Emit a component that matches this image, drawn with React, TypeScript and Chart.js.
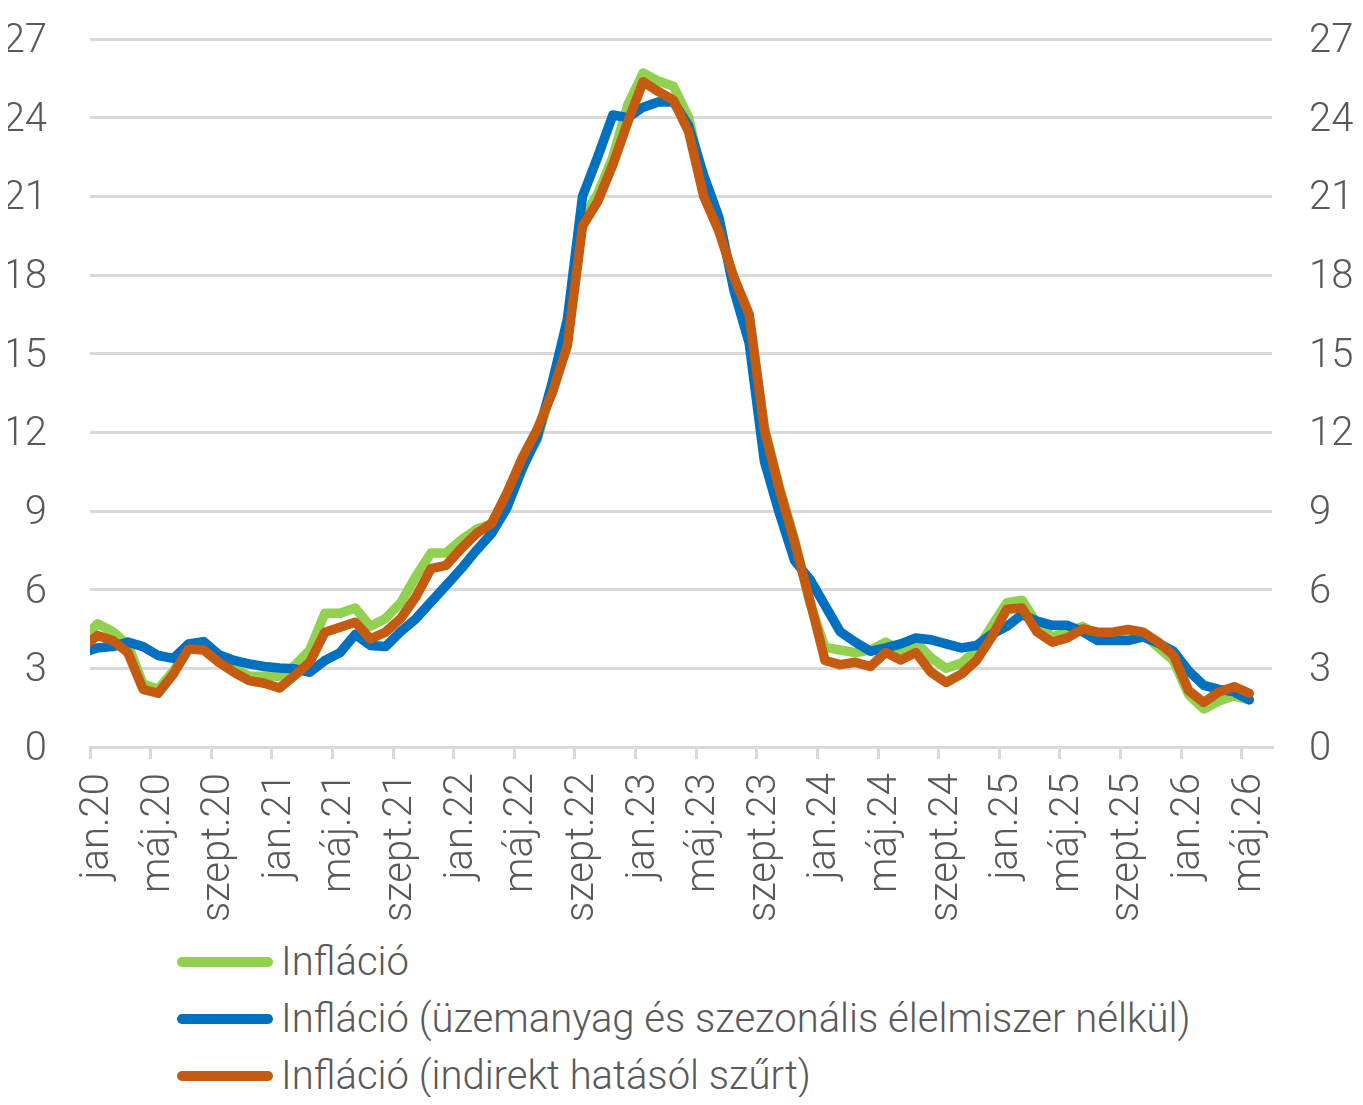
import React, { useEffect, useRef } from "react";
import { Chart, registerables } from "chart.js";

Chart.register(...registerables);

// Tick labels, one every 4 months from jan.20 to máj.26
const tickLabels = [
  "jan.20", "máj.20", "szept.20",
  "jan.21", "máj.21", "szept.21",
  "jan.22", "máj.22", "szept.22",
  "jan.23", "máj.23", "szept.23",
  "jan.24", "máj.24", "szept.24",
  "jan.25", "máj.25", "szept.25",
  "jan.26", "máj.26",
];

// Monthly year-on-year values (%), starting dec.19, ending máj.26
const inflacio = [
  4.1,
  4.7, 4.4, 3.9, 2.4, 2.2, 2.9, 3.8, 3.9, 3.4, 3.0, 2.7, 2.7,
  2.7, 3.1, 3.7, 5.1, 5.1, 5.3, 4.6, 4.9, 5.5, 6.5, 7.4, 7.4,
  7.9, 8.3, 8.5, 9.5, 10.7, 11.7, 13.7, 15.6, 20.1, 21.1, 22.5, 24.5,
  25.7, 25.4, 25.2, 24.0, 21.5, 20.1, 17.6, 16.4, 12.2, 9.9, 7.9, 5.5,
  3.8, 3.7, 3.6, 3.7, 4.0, 3.7, 4.0, 3.4, 3.0, 3.2, 3.7, 4.6,
  5.5, 5.6, 4.7, 4.2, 4.4, 4.6, 4.3, 4.3, 4.3, 4.3, 3.8, 3.3,
  2.0, 1.45, 1.75, 1.95, 1.8,
];

const inflacioMag = [
  3.6,
  3.78, 3.83, 4.0, 3.83, 3.49, 3.38, 3.93, 4.02, 3.52, 3.3, 3.17, 3.07,
  3.01, 2.98, 2.85, 3.3, 3.6, 4.29, 3.87, 3.83, 4.4, 4.89, 5.53, 6.16,
  6.8, 7.5, 8.14, 9.1, 10.57, 11.8, 13.9, 16.3, 21.0, 22.5, 24.1, 24.0,
  24.4, 24.6, 24.6, 23.7, 21.8, 20.2, 17.4, 15.4, 10.9, 8.9, 7.1, 6.4,
  5.4, 4.4, 4.0, 3.65, 3.78, 3.93, 4.16, 4.09, 3.93, 3.78, 3.87, 4.3,
  4.6, 5.05, 4.8, 4.64, 4.64, 4.4, 4.06, 4.06, 4.06, 4.2, 3.96, 3.65,
  2.9, 2.35, 2.2, 2.1, 1.8,
];

const inflacioSzurt = [
  3.8,
  4.25, 4.06, 3.6, 2.2, 2.05, 2.78, 3.74, 3.7, 3.23, 2.85, 2.53, 2.43,
  2.25, 2.72, 3.23, 4.38, 4.57, 4.76, 4.12, 4.38, 4.9, 5.72, 6.8, 6.93,
  7.57, 8.14, 8.53, 9.67, 11.0, 12.1, 13.5, 15.3, 19.86, 20.8, 22.2, 23.85,
  25.37, 25.0, 24.67, 23.47, 21.0, 19.67, 17.9, 16.5, 12.1, 9.8, 7.8, 5.6,
  3.3, 3.14, 3.23, 3.07, 3.6, 3.32, 3.6, 2.85, 2.46, 2.78, 3.3, 4.19,
  5.25, 5.3, 4.38, 4.0, 4.16, 4.5, 4.38, 4.38, 4.48, 4.38, 4.0, 3.5,
  2.15, 1.7, 2.1, 2.3, 2.05,
];

const seriesNames = [
  "Infláció",
  "Infláció (üzemanyag és szezonális élelmiszer nélkül)",
  "Infláció (indirekt hatásól szűrt)",
];
const seriesColors = ["#92D050", "#0070C0", "#C55A11"];

const TEXT = "#595959";
const GRID = "#D9D9D9";
const FONT_FAMILY = "Roboto, 'Open Sans', sans-serif";
const FONT = { family: FONT_FAMILY, size: 40, weight: 300 as any };

const W = 1347;
const CHART_H = 930;
const TOTAL_H = 1089;

// each monthly value sits in the middle of its month slot; index 0 is dec.19
const toPoints = (vals: number[]) => vals.map((v, k) => ({ x: k - 0.5, y: v }));

export default function App() {
  const canvasRef = useRef<HTMLCanvasElement | null>(null);

  useEffect(() => {
    const canvas = canvasRef.current;
    if (!canvas) return;
    const series = [inflacio, inflacioMag, inflacioSzurt];
    const chart = new Chart(canvas, {
      type: "line",
      data: {
        datasets: series.map((vals, idx) => ({
          label: seriesNames[idx],
          data: toPoints(vals),
          borderColor: seriesColors[idx],
          backgroundColor: seriesColors[idx],
          borderWidth: 9.5,
          pointRadius: 0,
          pointHoverRadius: 0,
          tension: 0,
          borderJoinStyle: "round",
          borderCapStyle: "round",
          order: 2 - idx,
          clip: { left: 0, top: false, right: false, bottom: false } as any,
        })),
      },
      options: {
        responsive: false,
        animation: false,
        events: [],
        layout: { padding: { top: 31, left: 0, right: 0, bottom: 0 } },
        plugins: {
          legend: { display: false },
          tooltip: { enabled: false },
        },
        scales: {
          x: {
            type: "linear",
            min: 0,
            max: 78,
            afterBuildTicks: (scale: any) => {
              scale.ticks = tickLabels.map((_, j) => ({ value: j * 4 }));
            },
            afterFit: (scale: any) => {
              scale.height = CHART_H - 739;
            },
            ticks: {
              autoSkip: false,
              minRotation: 90,
              maxRotation: 90,
              labelOffset: 8,
              padding: 14,
              color: TEXT,
              font: FONT,
              callback: (_v: any, index: number) => tickLabels[index],
            },
            grid: {
              drawOnChartArea: false,
              drawTicks: true,
              tickLength: 12,
              color: GRID,
              lineWidth: 3,
            },
            border: { display: true, color: GRID, width: 3 },
          },
          y: {
            type: "linear",
            position: "left",
            min: 0,
            max: 27,
            afterFit: (scale: any) => {
              scale.width = 82;
            },
            ticks: { stepSize: 3, padding: 0, labelOffset: 3, color: TEXT, font: FONT },
            grid: {
              color: GRID,
              lineWidth: 3,
              drawTicks: true,
              tickLength: 43,
              tickColor: "rgba(0,0,0,0)",
            },
            border: { display: false },
          },
          y2: {
            type: "linear",
            position: "right",
            min: 0,
            max: 27,
            afterFit: (scale: any) => {
              scale.width = W - 1264;
            },
            ticks: { stepSize: 3, padding: 0, labelOffset: 3, color: TEXT, font: FONT },
            grid: {
              drawOnChartArea: false,
              drawTicks: true,
              tickLength: 37,
              tickColor: "rgba(0,0,0,0)",
            },
            border: { display: false },
          },
        },
      },
    });
    return () => chart.destroy();
  }, []);

  const legendCenters = [954, 1011, 1068];

  return (
    <div style={{ position: "relative", width: W, height: TOTAL_H }}>
      <canvas
        ref={canvasRef}
        width={W}
        height={CHART_H}
        style={{ display: "block", width: W, height: CHART_H }}
      />
      {seriesNames.map((name, idx) => (
        <div
          key={name}
          style={{
            position: "absolute",
            left: 0,
            top: legendCenters[idx] - 20,
            height: 40,
            width: W,
          }}
        >
          <div
            style={{
              position: "absolute",
              left: 169,
              top: 15,
              width: 96,
              height: 10,
              borderRadius: 5,
              background: seriesColors[idx],
            }}
          />
          <div
            style={{
              position: "absolute",
              left: 273,
              top: 0,
              height: 40,
              lineHeight: "40px",
              fontFamily: FONT_FAMILY,
              fontWeight: 300,
              fontSize: 40,
              color: TEXT,
              whiteSpace: "nowrap",
            }}
          >
            {name}
          </div>
        </div>
      ))}
    </div>
  );
}
